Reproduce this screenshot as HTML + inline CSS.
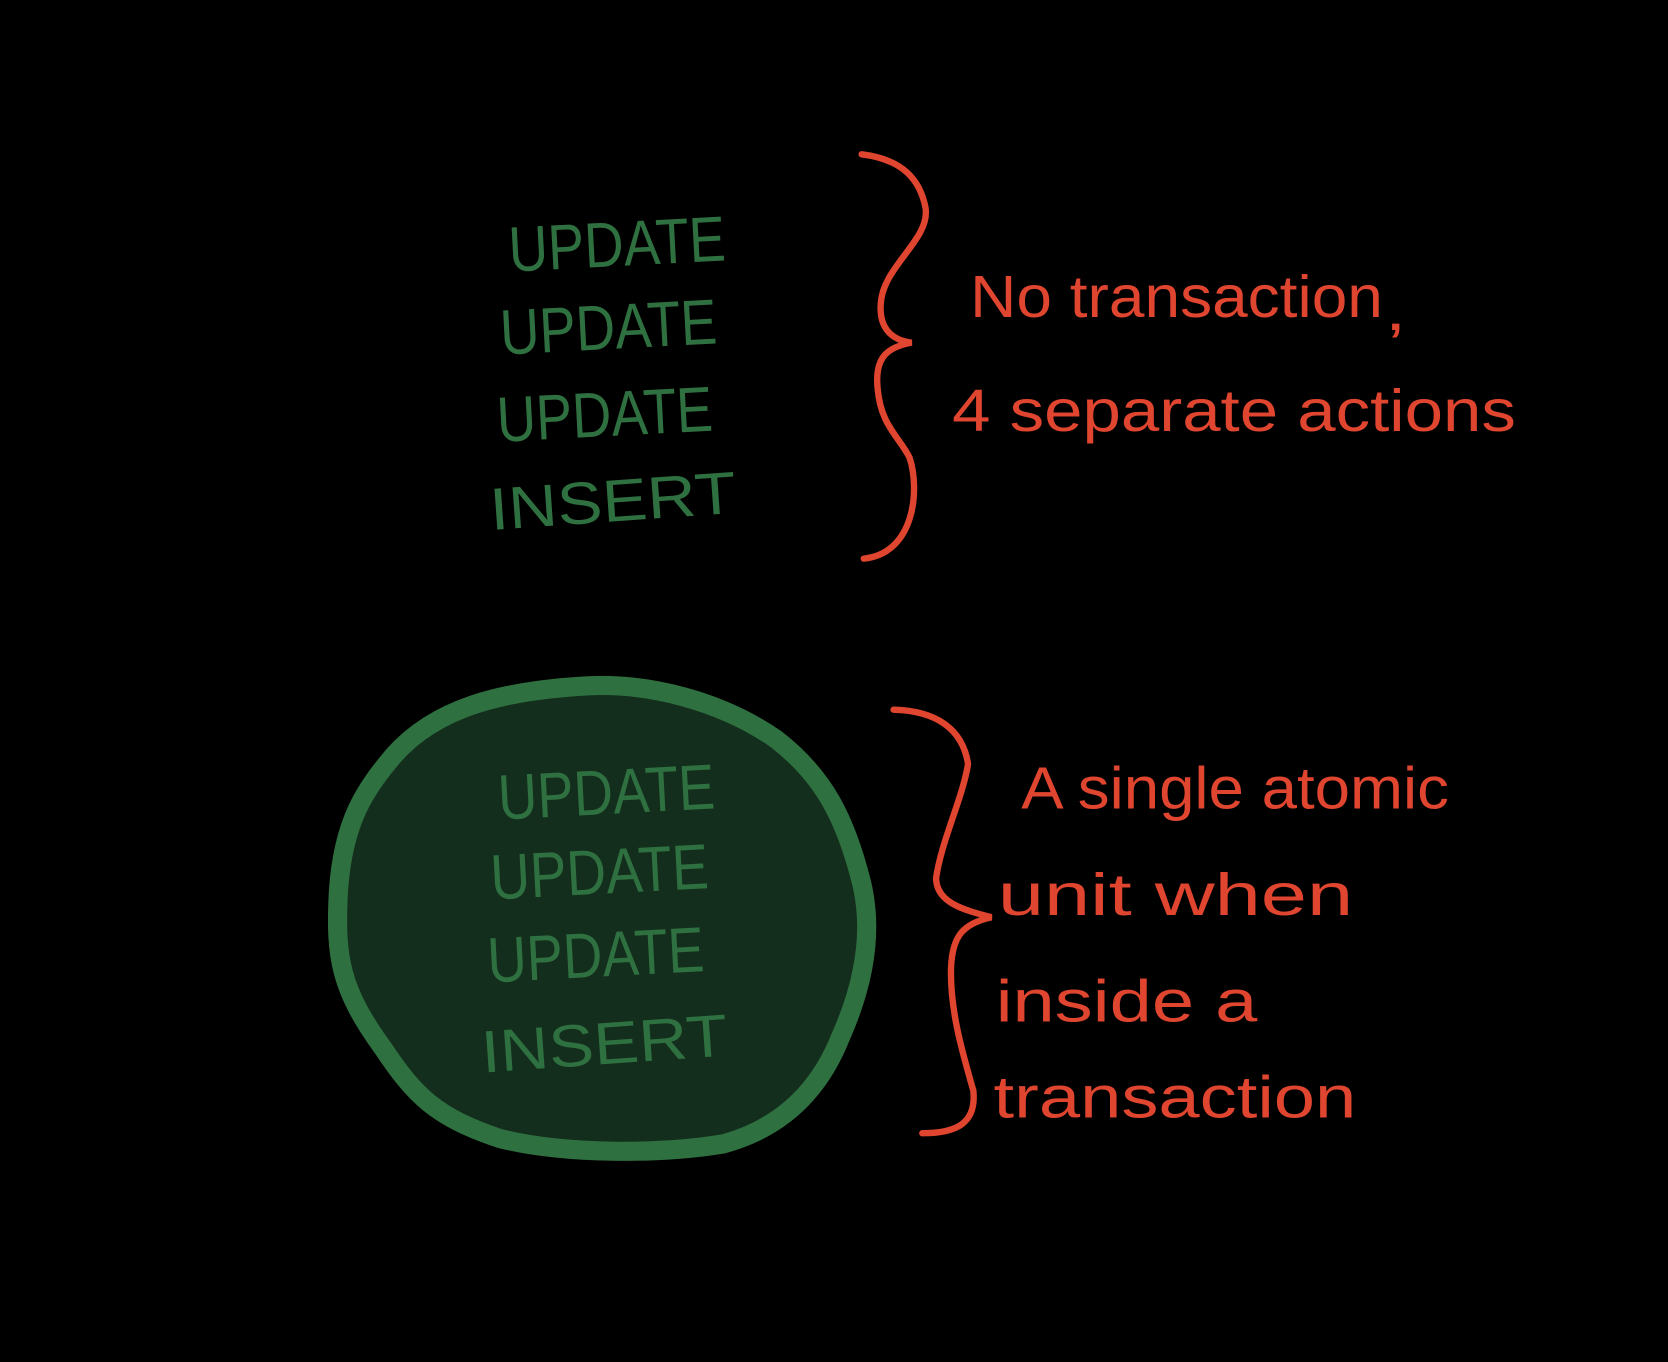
<!DOCTYPE html>
<html><head><meta charset="utf-8"><style>
html,body{margin:0;padding:0;background:#000;width:1668px;height:1362px;overflow:hidden}
svg{display:block}
.g{fill:#2f7040;font-family:"Liberation Sans",sans-serif;font-size:60px}
.r{fill:#e0452f;font-family:"Liberation Sans",sans-serif;font-size:56px}
</style></head><body>
<svg width="1668" height="1362" viewBox="0 0 1568 1280" preserveAspectRatio="none" xmlns="http://www.w3.org/2000/svg">
<rect width="1568" height="1280" fill="#000"/>
<g class="g">
<text x="478" y="250" textLength="204" lengthAdjust="spacingAndGlyphs" transform="rotate(-3 580 230)">UPDATE</text>
<text x="470" y="328" textLength="204" lengthAdjust="spacingAndGlyphs" transform="rotate(-3 572 308)">UPDATE</text>
<text x="467" y="410" textLength="203" lengthAdjust="spacingAndGlyphs" transform="rotate(-3 568 390)">UPDATE</text>
<text x="460" y="490" textLength="232" lengthAdjust="spacingAndGlyphs" transform="rotate(-4 576 470)" style="font-size:56px">INSERT</text>
</g>
<path d="M810,145 C850,150 865,170 870,195 C875,225 830,250 828,285 C826,310 840,320 857,322 C835,326 822,335 825,365 C828,400 845,410 855,430 C865,460 860,520 812,525" fill="none" stroke="#e0452f" stroke-width="6" stroke-linecap="round"/>
<g class="r">
<text x="912" y="298" textLength="388" lengthAdjust="spacingAndGlyphs">No transaction</text>
<text x="1302" y="310" textLength="20" lengthAdjust="spacingAndGlyphs">,</text>
<text x="895" y="405" textLength="530" lengthAdjust="spacingAndGlyphs">4 separate  actions</text>
</g>
<path d="M545,645 C610,640 680,660 730,695 C775,730 795,770 810,830 C822,880 810,930 790,975 C770,1025 735,1060 680,1075 C620,1085 530,1085 470,1070 C410,1050 390,1030 360,985 C320,930 315,900 318,840 C322,770 345,740 370,710 C410,665 470,650 545,645 Z" fill="#132e1c" stroke="#2f7040" stroke-width="18" stroke-linejoin="round"/>
<g class="g">
<text x="468" y="765" textLength="204" lengthAdjust="spacingAndGlyphs" transform="rotate(-3 570 745)">UPDATE</text>
<text x="461" y="840" textLength="205" lengthAdjust="spacingAndGlyphs" transform="rotate(-3 563 820)">UPDATE</text>
<text x="458" y="918" textLength="204" lengthAdjust="spacingAndGlyphs" transform="rotate(-3 560 898)">UPDATE</text>
<text x="452" y="1000" textLength="232" lengthAdjust="spacingAndGlyphs" transform="rotate(-4 568 980)" style="font-size:56px">INSERT</text>
</g>
<path d="M840,667 C880,668 905,685 910,718 C905,750 885,790 880,825 C880,848 905,855 932,862 C905,868 895,880 894,910 C893,950 905,990 915,1025 C918,1055 900,1065 867,1065" fill="none" stroke="#e0452f" stroke-width="6" stroke-linecap="round"/>
<g class="r">
<text x="960" y="760" textLength="402" lengthAdjust="spacingAndGlyphs">A single atomic</text>
<text x="938" y="860" textLength="334" lengthAdjust="spacingAndGlyphs">unit  when</text>
<text x="936" y="960" textLength="246" lengthAdjust="spacingAndGlyphs">inside  a</text>
<text x="934" y="1050" textLength="341" lengthAdjust="spacingAndGlyphs">transaction</text>
</g>
</svg>
</body></html>
